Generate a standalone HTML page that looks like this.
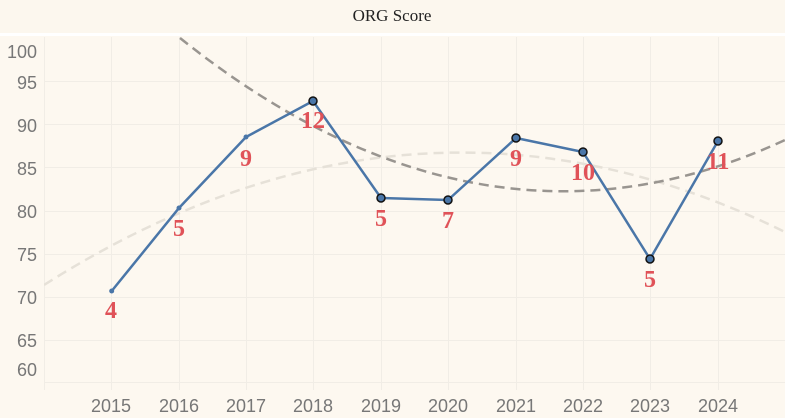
<!DOCTYPE html>
<html><head><meta charset="utf-8"><style>
body{margin:0;background:#fdf8f0;}
svg{display:block}
</style></head><body>
<svg width="785" height="418" xmlns="http://www.w3.org/2000/svg">
<defs><clipPath id="c"><rect x="44" y="37" width="741" height="346"/></clipPath></defs>
<rect width="785" height="418" fill="#fdf8f0"/>
<rect x="0" y="0" width="785" height="33" fill="#fcf7ee"/>
<rect x="0" y="33" width="785" height="3" fill="#ffffff"/>
<text x="392" y="21" text-anchor="middle" font-family="Liberation Serif, serif" font-size="17" fill="#222">ORG Score</text>
<g stroke="#f1ede6" stroke-width="1">
<line x1="44" y1="81.5" x2="785" y2="81.5"/><line x1="44" y1="124.5" x2="785" y2="124.5"/>
<line x1="44" y1="167.5" x2="785" y2="167.5"/><line x1="44" y1="211.5" x2="785" y2="211.5"/>
<line x1="44" y1="254.5" x2="785" y2="254.5"/><line x1="44" y1="297.5" x2="785" y2="297.5"/>
<line x1="44" y1="340.5" x2="785" y2="340.5"/><line x1="44" y1="382.5" x2="785" y2="382.5"/>
<line x1="44.5" y1="37" x2="44.5" y2="390"/>
<line x1="111.5" y1="37" x2="111.5" y2="390"/><line x1="179.5" y1="37" x2="179.5" y2="390"/>
<line x1="246.5" y1="37" x2="246.5" y2="390"/><line x1="313.5" y1="37" x2="313.5" y2="390"/>
<line x1="381.5" y1="37" x2="381.5" y2="390"/><line x1="448.5" y1="37" x2="448.5" y2="390"/>
<line x1="516.5" y1="37" x2="516.5" y2="390"/><line x1="583.5" y1="37" x2="583.5" y2="390"/>
<line x1="650.5" y1="37" x2="650.5" y2="390"/><line x1="718.5" y1="37" x2="718.5" y2="390"/>
</g>
<g font-family="Liberation Sans, sans-serif" font-size="18" fill="#777" text-anchor="end">
<text x="37" y="58">100</text><text x="37" y="89">95</text><text x="37" y="132">90</text>
<text x="37" y="175">85</text><text x="37" y="218">80</text><text x="37" y="261">75</text>
<text x="37" y="304">70</text><text x="37" y="347">65</text><text x="37" y="376">60</text>
</g>
<g font-family="Liberation Sans, sans-serif" font-size="18" fill="#777" text-anchor="middle">
<text x="111" y="412">2015</text><text x="179" y="412">2016</text><text x="246" y="412">2017</text>
<text x="313" y="412">2018</text><text x="381" y="412">2019</text><text x="448" y="412">2020</text>
<text x="516" y="412">2021</text><text x="583" y="412">2022</text><text x="650" y="412">2023</text>
<text x="718" y="412">2024</text>
</g>
<g clip-path="url(#c)" fill="none" stroke-width="2.5" stroke-dasharray="10,6">
<path d="M44,285 Q414.5,50 785,232" stroke="#e6e1d8"/>
<path d="M180,38 Q482.5,279.9 785,140" stroke="#999590"/>
</g>
<polyline fill="none" stroke="#4a76a8" stroke-width="2.5" points="111.7,291 179,208 246,137 313,101 381,198 448,200 516,138 583,152 650,259 718,141"/>
<g fill="#4a76a8"><circle cx="111.7" cy="291" r="2.5"/><circle cx="179" cy="208" r="2.5"/><circle cx="246" cy="137" r="2.5"/></g>
<g fill="#4a76a8" stroke="#111" stroke-width="1.5">
<circle cx="313" cy="101" r="4"/><circle cx="381" cy="198" r="4"/><circle cx="448" cy="200" r="4"/>
<circle cx="516" cy="138" r="4"/><circle cx="583" cy="152" r="4"/><circle cx="650" cy="259" r="4"/><circle cx="718" cy="141" r="4"/>
</g>
<g font-family="Liberation Serif, serif" font-size="24" font-weight="bold" fill="#e05258" text-anchor="middle">
<text x="111" y="318">4</text><text x="179" y="236">5</text><text x="246" y="166">9</text>
<text x="313" y="128">12</text><text x="381" y="226">5</text><text x="448" y="228">7</text>
<text x="516" y="166">9</text><text x="583" y="180">10</text><text x="650" y="287">5</text>
<text x="718" y="169">11</text>
</g>
</svg>
</body></html>
